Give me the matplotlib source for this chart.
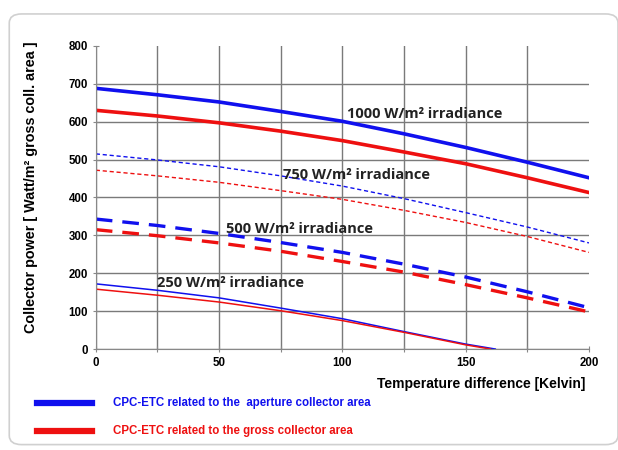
import numpy as np
import matplotlib.pyplot as plt
from matplotlib.patches import FancyBboxPatch

# Temperature difference (K)
dT = [0, 25, 50, 75, 100, 125, 150, 175, 200]

# CPC-ETC, aperture area (blue)
ap_1000 = [688, 671, 652, 627, 601, 568, 532, 493, 452]
ap_750 = [515, 499, 481, 457, 430, 397, 360, 322, 280]
ap_500 = [343, 326, 305, 281, 255, 224, 190, 151, 109]
dT_250b = [0, 25, 50, 75, 100, 125, 150, 162]
ap_250 = [172, 155, 135, 108, 80, 46, 13, 0]

# CPC-ETC, gross area (red)
gr_1000 = [630, 615, 597, 575, 550, 520, 489, 452, 413]
gr_750 = [472, 457, 440, 418, 395, 366, 334, 297, 255]
gr_500 = [315, 299, 280, 258, 231, 203, 170, 135, 98]
dT_250r = [0, 25, 50, 75, 100, 125, 150, 160]
gr_250 = [158, 142, 124, 101, 75, 44, 11, 0]

labels = ["1000 W/m² irradiance", "750 W/m² irradiance",
          "500 W/m² irradiance", "250 W/m² irradiance"]
label_pos = [(102, 620), (76, 460), (53, 318), (25, 174)]

blue = '#1010ee'
red = '#ee1010'

fig = plt.figure(figsize=(6.18, 4.5), dpi=100)
ax = fig.add_axes([0.155, 0.2244, 0.798, 0.6736])

ax.plot(dT, ap_1000, color=blue, lw=2.6)
ax.plot(dT, gr_1000, color=red, lw=2.6)
ax.plot(dT, ap_750, color=blue, lw=1.0, dashes=(3, 2))
ax.plot(dT, gr_750, color=red, lw=1.0, dashes=(3, 2))
ax.plot(dT, ap_500, color=blue, lw=2.4, dashes=(5, 3))
ax.plot(dT, gr_500, color=red, lw=2.4, dashes=(5, 3))
ax.plot(dT_250b, ap_250, color=blue, lw=1.1)
ax.plot(dT_250r, gr_250, color=red, lw=1.1)

for txt, (x, y) in zip(labels, label_pos):
    ax.text(x, y, txt, fontsize=10.5, fontweight='bold', family='Open Sans',
            color='#222222', va='center', ha='left')

ax.set_xlim(0, 200)
ax.set_ylim(0, 800)
ax.set_xticks(np.arange(0, 201, 25))
ax.set_xticklabels([str(v) if v % 50 == 0 else '' for v in range(0, 201, 25)])
ax.set_yticks(np.arange(0, 801, 100))
ax.grid(True, color='#7a7a7a', lw=1.0)
ax.set_axisbelow(True)
# no grid line along the top (800) and right (200) edges
ax.get_ygridlines()[-1].set_visible(False)
ax.get_xgridlines()[-1].set_visible(False)
for s in ['top', 'right']:
    ax.spines[s].set_visible(False)
for s in ['left', 'bottom']:
    ax.spines[s].set_color('#888888')
ax.tick_params(length=5, direction='inout', color='#888888', labelsize=8.3, pad=3)
for t in ax.get_xticklabels() + ax.get_yticklabels():
    t.set_fontweight('bold')
    t.set_family('Liberation Sans')

fig.text(0.05, 0.584, 'Collector power [ Watt/m² gross coll. area ]', fontsize=10.4,
         fontweight='bold', family='Liberation Sans', rotation=90,
         ha='center', va='center')
fig.text(0.948, 0.147, 'Temperature difference [Kelvin]', fontsize=10,
         fontweight='bold', family='Liberation Sans', ha='right', va='center')

# legend below the plot
fig.add_artist(plt.Line2D([0.06, 0.149], [0.104, 0.104], color=blue, lw=4.5))
fig.add_artist(plt.Line2D([0.06, 0.149], [0.042, 0.042], color=red, lw=4.5))
fig.text(0.183, 0.104, 'CPC-ETC related to the  aperture collector area', color=blue,
         fontsize=8.3, fontweight='bold', family='Liberation Sans', va='center')
fig.text(0.183, 0.042, 'CPC-ETC related to the gross collector area', color=red,
         fontsize=8.3, fontweight='bold', family='Liberation Sans', va='center')

fig.add_artist(FancyBboxPatch((0.015, 0.012), 0.985, 0.957,
                              boxstyle='round,pad=0,rounding_size=0.02',
                              transform=fig.transFigure, fill=False,
                              ec='#d0d0d0', lw=1.2))

fig.savefig('out.png', dpi=100)
